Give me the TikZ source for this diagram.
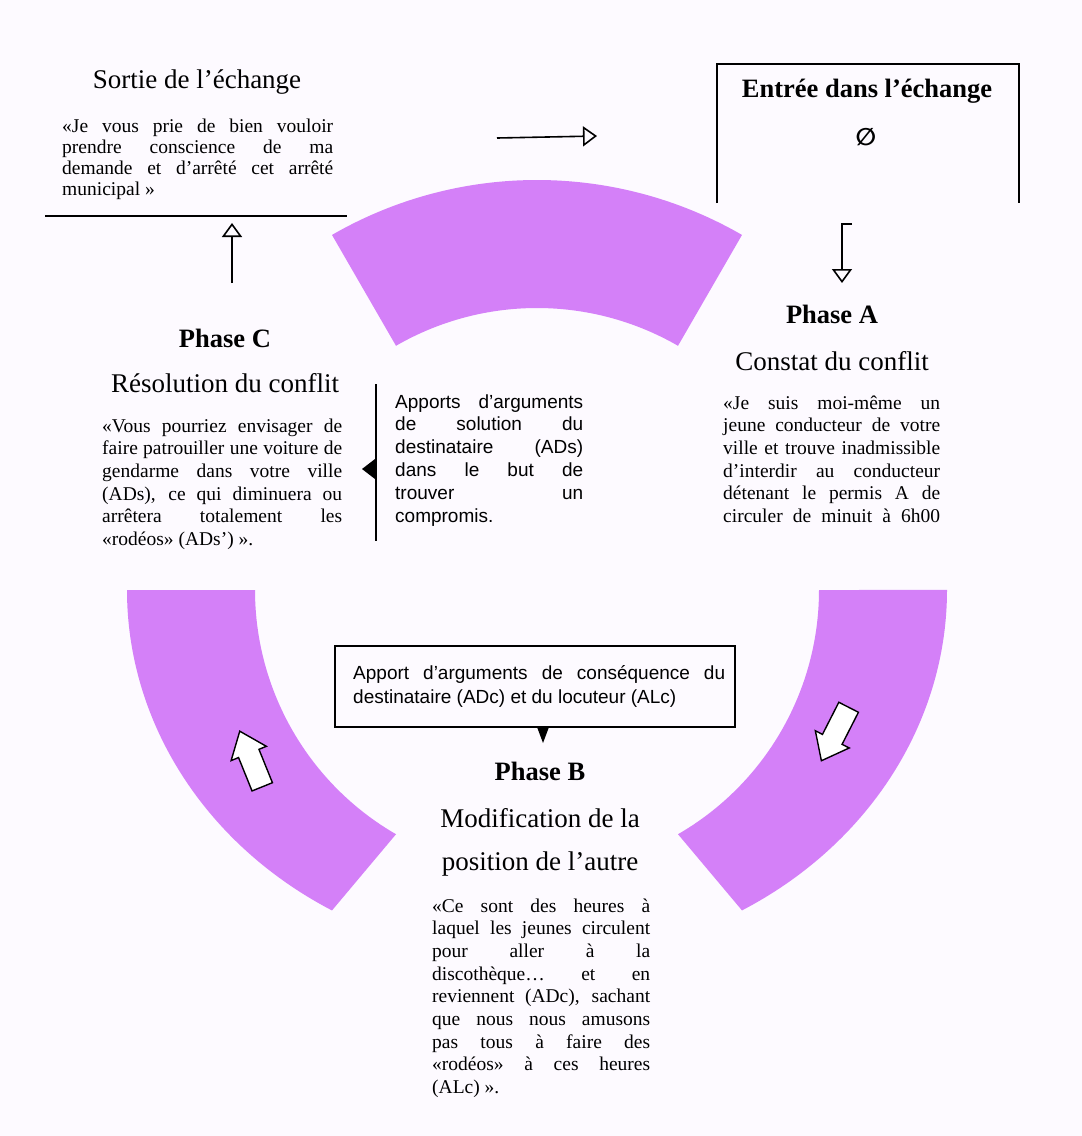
\documentclass[tikz,border=0pt]{standalone}
\usepackage{fontspec}
\setmainfont{Liberation Serif}
\newfontfamily\sansfont{Liberation Sans}
\newfontfamily\symfont{DejaVu Sans}
\usetikzlibrary{arrows.meta,calc}
\definecolor{ringfill}{RGB}{212,128,248}
\definecolor{paper}{RGB}{253,250,255}
% one fully justified line of a paragraph (interword spaces made stretchable)
\newcommand\jl[1]{{\spaceskip=0pt\xspaceskip=0pt\makebox[\hsize][s]{#1}}\par}
% hollow block arrow pointing along +x, centred on the origin
\newcommand\blockarrow{(-30,-11) -- (6,-11) -- (6,-19) -- (30,0) -- (6,19) -- (6,11) -- (-30,11) -- cycle}

\begin{document}
\begin{tikzpicture}[x=1pt,y=1pt,
  band/.style={fill=ringfill},
  title/.style={font=\fontsize{27}{30}\selectfont, anchor=base, inner sep=0},
  phase/.style={font=\bfseries\fontsize{26.5}{30}\selectfont, anchor=base, inner sep=0},
  body/.style={font=\fontsize{19.5}{22.7}\selectfont, anchor=base west, inner sep=0, align=justify},
  sans/.style={font=\sansfont\fontsize{19}{22.8}\selectfont, anchor=base west, inner sep=0, align=justify},
  rule/.style={line width=1.6pt},
  openarrow/.style={rule,-{Triangle[open,length=14pt,width=20pt,line width=1.6pt]}},
  flow/.style={draw=black, fill=white, line width=1.4pt, line join=miter},
]
% page
\fill[paper] (0,0) rectangle (1082,-1136);

% the three bands of the cycle
\coordinate (C) at (537,-590);
\fill[band] ($(C)+(60:410pt)$) arc[start angle=60,end angle=120,radius=410pt]
  -- ($(C)+(120:282pt)$) arc[start angle=120,end angle=60,radius=282pt] -- cycle;
\fill[band] ($(C)+(-410,0)$) arc[start angle=180,end angle=240,x radius=410pt,y radius=370pt]
  -- ($(C)+(240:282pt)$) arc[start angle=240,end angle=180,radius=282pt] -- cycle;
\fill[band] ($(C)+(205,-320.4)$) arc[start angle=300,end angle=360,x radius=410pt,y radius=370pt]
  -- ($(C)+(0:282pt)$) arc[start angle=360,end angle=300,radius=282pt] -- cycle;

% direction arrows on the bands
\fill[flow] [shift={(251,-759)}, rotate=112] \blockarrow;
\fill[flow] [shift={(835,-734)}, rotate=243] \blockarrow;

% exit of the exchange
\node[title] (sortieT) at (197,-88) {Sortie de l’échange};
\node[body, font=\fontsize{19.5}{21}\selectfont, text width=271pt] (sortieB) at (62,-132)
  {\jl{«Je vous prie de bien vouloir}\jl{prendre conscience de ma}\jl{demande et d’arrêté cet arrêté}municipal »};
\draw[rule] (45,-216) -- (347,-216);

% entry of the exchange
\draw[rule] (717,-203) -- (717,-64) -- (1019,-64) -- (1019,-203);
\node[phase] (entreeT) at (867,-97) {Entrée dans l’échange};
\node[font=\symfont\bfseries\fontsize{24}{28}\selectfont, inner sep=0] (empty) at (866,-137) {∅};

% phase A
\node[phase] (phaseA) at (832,-323) {Phase A};
\node[title] (constat) at (832,-370) {Constat du conflit};
\node[body, text width=217pt] (bodyA) at (723,-409)
  {\jl{«Je suis moi-même un}\jl{jeune conducteur de votre}\jl{ville et trouve inadmissible}\jl{d’interdir au conducteur}\jl{détenant le permis A de}\jl{circuler de minuit à 6h00}};

% phase C
\node[phase] (phaseC) at (225,-347) {Phase C};
\node[title] (resol) at (225,-392) {Résolution du conflit};
\node[body, text width=240pt] (bodyC) at (102,-432)
  {\jl{«Vous pourriez envisager de}\jl{faire patrouiller une voiture de}\jl{gendarme dans votre ville}\jl{(ADs), ce qui diminuera ou}\jl{arrêtera totalement les}«rodéos» (ADs’) ».};

% solution arguments
\node[sans, text width=188pt] (apports) at (395,-408)
  {\jl{Apports d’arguments}\jl{de solution du}\jl{destinataire (ADs)}\jl{dans le but de}\jl{trouver un}compromis.};
\draw[rule] (376,-384) -- (376,-541);
\fill (375,-459) -- (362,-469) -- (375,-479) -- cycle;

% consequence arguments
\node[draw, rule, minimum width=400pt, minimum height=81pt, inner sep=0] (conseq) at (535,-686.5) {};
\node[sans, font=\sansfont\fontsize{19}{24}\selectfont, text width=372pt] (conseqT) at (353,-679)
  {\jl{Apport d’arguments de conséquence du}destinataire (ADc) et du locuteur (ALc)};
\fill (537,-727) -- (549,-727) -- (543,-743) -- cycle;

% phase B
\node[phase] (phaseB) at (540,-780) {Phase B};
\node[title] (modif) at (540,-827) {Modification de la};
\node[title] (modif2) at (540,-870) {position de l’autre};
\node[body, text width=218pt] (bodyB) at (432,-912)
  {\jl{«Ce sont des heures à}\jl{laquel les jeunes circulent}\jl{pour aller à la}\jl{discothèque… et en}\jl{reviennent (ADc), sachant}\jl{que nous nous amusons}\jl{pas tous à faire des}\jl{«rodéos» à ces heures}(ALc) ».};

% transitions between the stages
\coordinate (exitTail) at (497,-138);
\coordinate (exitHead) at (597,-136);
\draw[openarrow] (exitTail) -- (exitHead);
\coordinate (upTail) at (232,-283);
\coordinate (upHead) at (232,-223);
\draw[openarrow] (upTail) -- (upHead);
\coordinate (downTick) at (852,-224);
\coordinate (downTail) at (842,-224);
\coordinate (downHead) at (842,-283);
\draw[openarrow] (downTick) -- (downTail) -- (downHead);
\end{tikzpicture}
\end{document}
